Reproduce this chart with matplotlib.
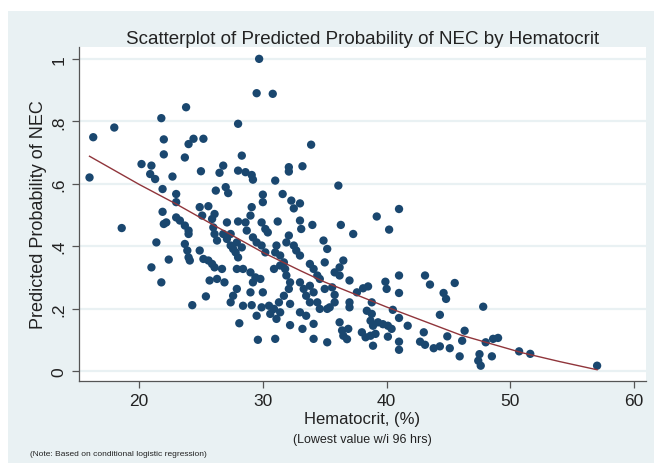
import matplotlib.pyplot as plt
from matplotlib.patches import Rectangle

# lowest hematocrit within 96 hrs (%) and predicted probability of NEC
hematocrit = [
    29.7, 29.5, 30.8, 23.8, 21.8, 18.0, 16.3, 28.0, 22.0, 24.0, 24.4, 25.2,
    22.0, 23.7, 28.3, 33.9, 16.0, 20.2, 21.0, 20.9, 21.3, 22.7, 25.0, 26.5,
    26.8, 28.0, 28.6, 29.1, 29.2, 32.1, 32.1, 33.2, 31.0, 21.9, 23.0, 23.0,
    26.2, 27.0, 27.2, 30.0, 30.0, 31.6, 32.3, 32.5, 33.0, 21.9, 18.6, 22.2,
    22.0, 23.0, 23.3, 23.7, 24.0, 24.0, 24.9, 25.6, 25.1, 25.9, 26.1, 26.0,
    26.1, 26.3, 27.1, 28.0, 28.6, 29.0, 29.1, 28.7, 29.9, 30.2, 30.4, 31.2,
    33.0, 33.1, 34.0, 21.4, 22.4, 21.0, 21.8, 23.7, 23.9, 24.0, 24.1, 24.9,
    25.2, 25.6, 25.9, 26.1, 26.7, 26.8, 27.1, 27.4, 27.4, 27.6, 27.8, 28.0,
    28.3, 27.9, 29.2, 29.5, 29.9, 30.2, 31.1, 31.0, 31.4, 31.7, 32.1, 31.9,
    32.5, 32.7, 33.0, 34.9, 35.2, 33.8, 34.1, 34.4, 35.0, 27.9, 28.4, 29.0,
    29.4, 29.2, 29.8, 25.7, 26.3, 26.9, 30.9, 31.4, 31.8, 31.9, 32.2, 32.1,
    31.7, 31.3, 30.9, 30.5, 33.0, 33.3, 33.8, 34.1, 33.5, 33.8, 34.4, 34.6,
    27.9, 27.6, 27.4, 25.4, 24.3, 28.4, 29.1, 29.9, 30.0, 29.0, 29.5, 30.6,
    31.1, 31.4, 32.2, 28.1, 32.2, 33.2, 34.1, 33.5, 33.0, 29.6, 31.0, 34.1,
    35.2, 34.6, 35.0, 35.2,
    36.1, 36.3, 37.3, 39.2, 41.0, 40.2, 36.5, 36.2, 35.8, 36.2, 37.0, 35.6,
    35.8, 35.8, 35.4, 37.6, 38.1, 38.5, 37.0, 37.0, 38.8, 38.4, 38.8, 38.7,
    38.9, 39.3, 39.7, 40.1, 40.4, 36.2, 36.4, 36.9, 36.8, 36.5, 38.0, 38.3,
    38.7, 39.1, 38.9, 40.1, 39.9, 40.0, 41.0, 41.0, 40.5, 41.0, 41.7, 41.0,
    41.0, 43.1, 43.5, 45.5, 44.6, 44.8, 47.8, 44.3, 43.0, 42.7, 43.1, 43.8,
    44.3, 45.1, 44.9, 45.9, 46.3, 46.1, 48.0, 48.6, 49.0, 47.5, 47.4, 47.6,
    48.5, 50.7, 51.6, 57.0,
]
pred_prob = [
    1.000, 0.890, 0.888, 0.845, 0.810, 0.780, 0.749, 0.792, 0.742, 0.727, 0.744, 0.744,
    0.694, 0.684, 0.690, 0.725, 0.620, 0.663, 0.658, 0.631, 0.615, 0.623, 0.640, 0.635,
    0.658, 0.642, 0.637, 0.628, 0.613, 0.653, 0.639, 0.656, 0.610, 0.583, 0.567, 0.541,
    0.578, 0.589, 0.570, 0.565, 0.541, 0.567, 0.546, 0.521, 0.537, 0.510, 0.458, 0.476,
    0.471, 0.492, 0.482, 0.466, 0.450, 0.439, 0.525, 0.528, 0.498, 0.487, 0.503, 0.460,
    0.439, 0.418, 0.476, 0.479, 0.476, 0.498, 0.525, 0.450, 0.476, 0.455, 0.444, 0.479,
    0.482, 0.455, 0.468, 0.412, 0.357, 0.332, 0.284, 0.407, 0.386, 0.364, 0.354, 0.386,
    0.359, 0.354, 0.343, 0.332, 0.327, 0.439, 0.423, 0.439, 0.402, 0.391, 0.380, 0.364,
    0.396, 0.412, 0.428, 0.412, 0.402, 0.380, 0.402, 0.380, 0.370, 0.348, 0.434, 0.412,
    0.402, 0.386, 0.370, 0.418, 0.391, 0.343, 0.327, 0.306, 0.348, 0.327, 0.327, 0.316,
    0.300, 0.284, 0.295, 0.290, 0.295, 0.284, 0.327, 0.338, 0.327, 0.306, 0.284, 0.263,
    0.241, 0.220, 0.199, 0.209, 0.284, 0.263, 0.273, 0.252, 0.241, 0.220, 0.220, 0.199,
    0.263, 0.241, 0.220, 0.239, 0.211, 0.209, 0.211, 0.204, 0.252, 0.252, 0.177, 0.183,
    0.167, 0.188, 0.215, 0.153, 0.147, 0.135, 0.151, 0.177, 0.188, 0.100, 0.103, 0.103,
    0.092, 0.295, 0.263, 0.199,
    0.594, 0.468, 0.439, 0.495, 0.519, 0.453, 0.354, 0.332, 0.316, 0.306, 0.290, 0.268,
    0.244, 0.220, 0.204, 0.252, 0.265, 0.271, 0.220, 0.204, 0.220, 0.193, 0.183, 0.161,
    0.145, 0.156, 0.150, 0.145, 0.135, 0.156, 0.130, 0.135, 0.102, 0.113, 0.124, 0.108,
    0.113, 0.119, 0.081, 0.110, 0.286, 0.263, 0.306, 0.250, 0.196, 0.170, 0.145, 0.094,
    0.068, 0.306, 0.277, 0.282, 0.250, 0.231, 0.206, 0.180, 0.124, 0.094, 0.084, 0.073,
    0.079, 0.073, 0.111, 0.047, 0.129, 0.097, 0.092, 0.103, 0.106, 0.054, 0.033, 0.017,
    0.047, 0.063, 0.055, 0.017,
]

# fitted curve from the conditional logistic model
fit_hct = [16, 18, 20, 23, 26, 30, 33, 35, 40, 43, 46, 51, 54, 57]
fit_prob = [0.688, 0.643, 0.598, 0.535, 0.468, 0.380, 0.322, 0.285,
            0.205, 0.160, 0.115, 0.058, 0.030, 0.004]

x_ticks = [20, 30, 40, 50, 60]
y_ticks = [0, 0.2, 0.4, 0.6, 0.8, 1.0]
y_ticklabels = ['0', '.2', '.4', '.6', '.8', '1']

plt.rcParams['font.family'] = ['Liberation Sans', 'DejaVu Sans']

BG = '#e9f1f3'
NAVY = '#1a476f'
MAROON = '#90353b'
AXIS = '#555555'

fig = plt.figure(figsize=(6.54, 4.64), dpi=100, facecolor='white')
fig.patches.append(Rectangle((8 / 654, 0), 1, 1 - 12 / 464, transform=fig.transFigure,
                             facecolor=BG, edgecolor='none', zorder=-10))

ax = fig.add_axes([79 / 654, 82 / 464, 567 / 654, 334 / 464])
ax.set_facecolor('white')

for t in y_ticks:
    ax.axhline(t, color=BG, lw=1.6, zorder=1)

ax.scatter(hematocrit, pred_prob, s=36, color=NAVY, edgecolors='none', zorder=3)
ax.plot(fit_hct, fit_prob, color=MAROON, lw=1.0, zorder=4)

ax.set_xlim(15.15, 60.95)
ax.set_ylim(-0.032, 1.038)
ax.set_xticks(x_ticks)
ax.set_yticks(y_ticks)
ax.set_yticklabels(y_ticklabels, rotation=90, va='center')

for side in ['top', 'right']:
    ax.spines[side].set_visible(False)
for side in ['left', 'bottom']:
    ax.spines[side].set_color(AXIS)
    ax.spines[side].set_linewidth(0.9)

ax.tick_params(axis='both', colors=AXIS, length=5, width=0.9, labelsize=12.5,
               labelcolor='#222222', pad=4)

ax.set_title('Scatterplot of Predicted Probability of NEC by Hematocrit',
             fontsize=13.5, color='#222222', pad=3)
ax.set_ylabel('Predicted Probability of NEC', fontsize=13, color='#222222', labelpad=3)
ax.set_xlabel('Hematocrit, (%)', fontsize=12, color='#222222', labelpad=2)

fig.text(362 / 654, 1 - 440 / 464, '(Lowest value w/i 96 hrs)', ha='center', va='center',
         fontsize=9, color='#222222')
fig.text(30 / 654, 1 - 455 / 464, '(Note: Based on conditional logistic regression)',
         ha='left', va='center', fontsize=6, color='#222222')

fig.savefig('out.png', dpi=100, facecolor=fig.get_facecolor())
